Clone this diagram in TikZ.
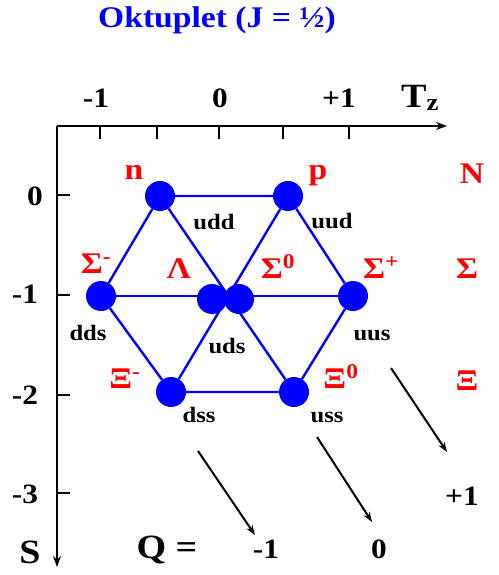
\documentclass[tikz,border=0pt]{standalone}
\usepackage{fontspec}
\setmainfont{Liberation Serif}[FakeStretch=1.12]
\usetikzlibrary{arrows,arrows.meta,positioning,backgrounds}

\begin{document}
\begin{tikzpicture}[
  x=1pt,y=-1pt,
  every node/.style={inner sep=0pt,anchor=base},
  dot/.style={circle,fill=blue,minimum size=30pt,inner sep=0pt,anchor=center},
  bond/.style={draw=blue,line width=2.4pt},
  hadron/.style={text=red,font=\bfseries\fontsize{30}{30}\selectfont},
  quark/.style={font=\bfseries\fontsize{22}{22}\selectfont},
  num/.style={font=\bfseries\fontsize{28}{28}\selectfont},
  big/.style={font=\bfseries\fontsize{34}{34}\selectfont},
  axis/.style={-{Stealth[length=11pt,width=8pt]},line width=2.5pt},
  arrow/.style={-{Stealth[length=10pt,width=7pt]},line width=2pt}
]
\useasboundingbox (0,0) rectangle (498,575);

% title
\node[text=blue,font=\bfseries\fontsize{30}{30}\selectfont] (title) at (217,28) {Oktuplet (J = ½)};

% axes
\coordinate (origin) at (57,126);
\coordinate (tzend) at (447,126);
\coordinate (send) at (57,567);
\draw[axis] (origin) -- (tzend);
\draw[axis] (origin) -- (send);
\foreach \x in {100,157,219,283,349}
  \draw[line width=2.5pt] (\x,126) -- (\x,139);
\foreach \y in {195,295,395,493}
  \draw[line width=2.5pt] (57,\y) -- (70,\y);

\node[num] (tzm) at (96,107) {-1};
\node[num] (tzz) at (220,107) {0};
\node[num] (tzp) at (339,107) {+1};
\node[big] (tz) at (420,107) {T\textsubscript{z}};
\node[num] (sz) at (35,205) {0};
\node[num] (sm1) at (25,303) {-1};
\node[num] (sm2) at (25,404) {-2};
\node[num] (sm3) at (25,503) {-3};
\node[big] (s) at (30,563) {S};

% octet
\node[dot] (n) at (160,196) {};
\node[dot] (p) at (288,196) {};
\node[dot] (sigm) at (101,296) {};
\node[dot] (sigp) at (353,296) {};
\node[dot] (lam) at (212,299) {};
\node[dot] (sig0) at (239,299) {};
\node[dot] (xim) at (171,392) {};
\node[dot] (xi0) at (294,392) {};

\begin{scope}[on background layer]
\draw[bond] (n) -- (p) -- (sigp) -- (xi0) -- (xim) -- (sigm) -- (n);
\draw[bond] (sigm) -- (sigp);
\draw[bond] (n) -- (xi0);
\draw[bond] (p) -- (xim);
\end{scope}

\node[hadron] (ln) at (134,179) {n};
\node[hadron] (lp) at (318,179) {p};
\node[hadron] (lsigm) at (96,273) {Σ\textsuperscript{-}};
\node[hadron] (llam) at (179,278) {Λ};
\node[hadron] (lsig0) at (278,278) {Σ\textsuperscript{0}};
\node[hadron] (lsigp) at (381,278) {Σ\textsuperscript{+}};
\node[hadron] (lxim) at (125,388) {Ξ\textsuperscript{-}};
\node[hadron] (lxi0) at (341,388) {Ξ\textsuperscript{0}};
\node[hadron] (fn) at (472,183) {N};
\node[hadron] (fsig) at (467,278) {Σ};
\node[hadron] (fxi) at (467,390) {Ξ};

\node[quark] (udd) at (214,229) {udd};
\node[quark] (uud) at (332,228) {uud};
\node[quark] (dds) at (88,340) {dds};
\node[quark] (uus) at (372,340) {uus};
\node[quark] (uds) at (227,353) {uds};
\node[quark] (dss) at (199,422) {dss};
\node[quark] (uss) at (327,422) {uss};

% charge
\coordinate (qa1) at (198,451);
\coordinate (qa2) at (255,535);
\coordinate (qb1) at (317,437);
\coordinate (qb2) at (372,522);
\coordinate (qc1) at (391,368);
\coordinate (qc2) at (447,452);
\draw[arrow] (qa1) -- (qa2);
\draw[arrow] (qb1) -- (qb2);
\draw[arrow] (qc1) -- (qc2);
\node[big] (q) at (167,558) {Q =};
\node[num] (qm) at (266,558) {-1};
\node[num] (qz) at (379,558) {0};
\node[num] (qp) at (462,505) {+1};
\end{tikzpicture}
\end{document}
